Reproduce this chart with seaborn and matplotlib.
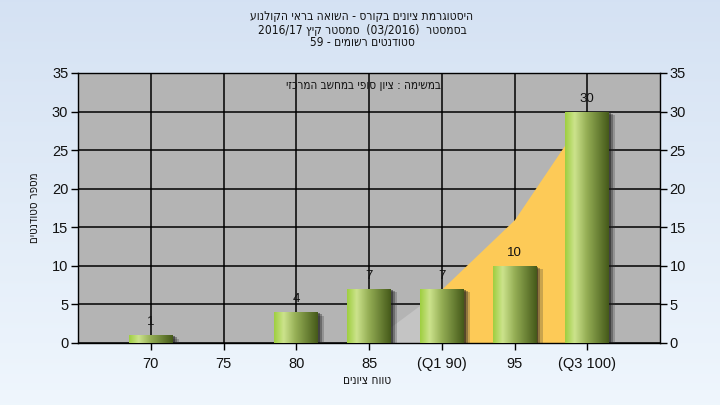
import numpy as np
import pandas as pd
import matplotlib
matplotlib.use("Agg")
import matplotlib.pyplot as plt
import matplotlib.patheffects as pe
import seaborn as sns

# ---- data ----
categories = ["70", "75", "80", "85", "(Q1 90)", "95", "(Q3 100)"]
counts = [1, 0, 4, 7, 7, 10, 30]
area_values = [0, 0, 0, 0, 7, 16, 30]
y_ticks = [0, 5, 10, 15, 20, 25, 30, 35]

def rtl(s):
    """Reverse Hebrew text for visual (LTR) rendering, keeping digit runs in order."""
    import re
    parts = re.split(r"(\d[\d/]*)", s)
    out = []
    for p in parts:
        if re.fullmatch(r"\d[\d/]*", p or "x"):
            out.append(p)
        else:
            mirror = {"(": ")", ")": "("}
            out.append("".join(mirror.get(c, c) for c in p[::-1]))
    return "".join(out[::-1])

title_lines = [
    rtl("היסטוגרמת ציונים בקורס - השואה בראי הקולנוע"),
    rtl("בסמסטר  (03/2016)  סמסטר קיץ 2016/17"),
    rtl("סטודנטים רשומים - 59"),
]
note_text = rtl("במשימה : ציון סופי במחשב המרכזי")
y_label = rtl("מספר סטודנטים")
x_label = rtl("טווח ציונים")

sns.set_theme(style="white")
plt.rcParams["font.family"] = ["Liberation Sans Narrow", "Liberation Sans", "DejaVu Sans"]
HEB = ["DejaVu Sans", "Liberation Sans"]
TXT = "#111111"

fig = plt.figure(figsize=(7.2, 4.05), dpi=100)

# background gradient
bg = fig.add_axes([0, 0, 1, 1], zorder=-10)
top = np.array([0.835, 0.886, 0.953])
bot = np.array([0.937, 0.965, 0.992])
t = np.linspace(0, 1, 256)[:, None]
grad = (top * (1 - t) + bot * t)[:, None, :]
bg.imshow(grad, aspect="auto", extent=[0, 1, 0, 1])
bg.axis("off")

ax = fig.add_axes([78 / 720, 62 / 405, 582 / 720, 270 / 405])
ax.set_facecolor("#b4b4b4")

df = pd.DataFrame({"cat": categories, "count": counts})
sns.barplot(data=df, x="cat", y="count", order=categories, width=0.6,
            color="#8fb042", saturation=1, ax=ax, zorder=3, linewidth=0)

xs = np.arange(len(categories))
av = np.array(area_values, dtype=float)
# gray part before Q1, orange between Q1 and Q3
ax.fill_between(xs[:5], 0, av[:5], color="#c4c4c4", zorder=1, lw=0)
ax.fill_between(xs[4:], 0, av[4:], color="#fdca57", zorder=1, lw=0)

# gradient fill for bars
stops = np.array([0.0, 0.22, 0.5, 1.0])
cols = np.array([[0.62, 0.81, 0.25],
                 [0.80, 0.89, 0.55],
                 [0.58, 0.68, 0.33],
                 [0.27, 0.35, 0.10]])
u = np.linspace(0, 1, 200)
bar_grad = np.stack([np.interp(u, stops, cols[:, k]) for k in range(3)], axis=-1)[None, :, :]

for p in list(ax.patches):
    h = p.get_height()
    if h <= 0:
        p.set_visible(False)
        continue
    p.set_linewidth(0)
    p.set_path_effects([
        pe.SimplePatchShadow(offset=(4.5, -2.5), shadow_rgbFace="#333333", alpha=0.25),
        pe.SimplePatchShadow(offset=(3.0, -1.5), shadow_rgbFace="#222222", alpha=0.35),
        pe.SimplePatchShadow(offset=(1.5, -0.8), shadow_rgbFace="#111111", alpha=0.45),
        pe.Normal()])
    x0, y0, w = p.get_x(), p.get_y(), p.get_width()
    im = ax.imshow(bar_grad, extent=[x0, x0 + w, y0, y0 + h], aspect="auto", zorder=3.5,
                   interpolation="bilinear")
    im.set_clip_path(p)
    ax.text(x0 + w / 2, h + 0.9, f"{int(h)}", ha="center", va="bottom", fontsize=9.5,
            color=TXT, zorder=5)

ax.set_xlim(-1, len(categories))
ax.set_ylim(0, 35)
ax.set_yticks(y_ticks)
ax.set_xticks(xs)
ax.set_xticklabels(categories)
ax.grid(True, color="black", lw=1.1, zorder=0.5)
ax.set_axisbelow(True)
for s in ax.spines.values():
    s.set_color("black")
    s.set_linewidth(1)
ax.tick_params(axis="y", which="both", left=True, right=True, labelleft=True, labelright=True,
               length=5, width=1, color="black", labelsize=10.5, labelcolor=TXT, pad=2)
ax.tick_params(axis="x", bottom=True, length=5, width=1, color="black", labelsize=10.5,
               labelcolor=TXT, pad=5)
ax.set_xlabel("")
ax.set_ylabel("")

fig.text(34 / 720, 1 - 208 / 405, y_label, rotation=90, ha="center", va="center",
         fontsize=8.3, color=TXT, family=HEB, fontstretch="condensed")
fig.text(367 / 720, 1 - 381 / 405, x_label, ha="center", va="center", fontsize=8.5,
         color=TXT, family=HEB, fontstretch="condensed")
ax.text(0.49, 0.955, note_text, transform=ax.transAxes, ha="center", va="center",
        fontsize=8.4, color=TXT, zorder=6, family=HEB, fontstretch="condensed")

for i, line in enumerate(title_lines):
    fig.text(362 / 720, 1 - (17 + 13 * i) / 405, line, ha="center", va="center",
             fontsize=8.6, color=TXT, family=HEB, fontstretch="condensed")

fig.savefig("out.png", dpi=100)
